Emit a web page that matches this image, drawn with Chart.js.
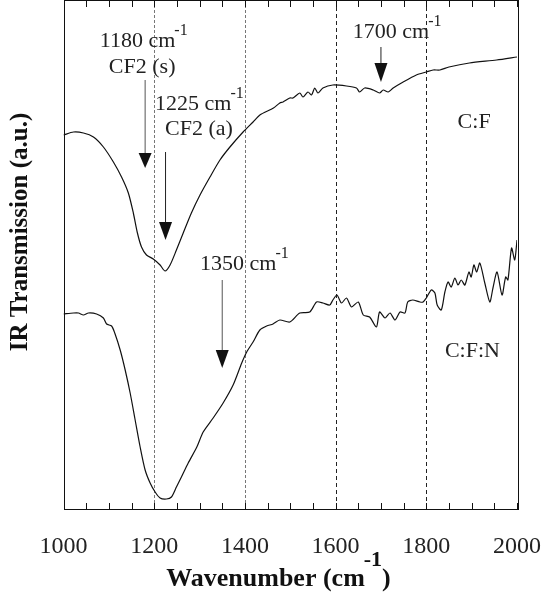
<!DOCTYPE html>
<html>
<head>
<meta charset="utf-8">
<script src="https://cdn.jsdelivr.net/npm/chart.js@4.4.1/dist/chart.umd.min.js"></script>
<style>
  html, body { margin: 0; padding: 0; background: #fff; }
  #wrap { width: 557px; height: 600px; }
</style>
</head>
<body>
<div id="wrap"><canvas id="ir-chart" width="557" height="600"></canvas></div>
<script>
// C:F film spectrum (wavenumber in cm-1, transmission in a.u.)
const cfWavenumber = [1000, 1022, 1044, 1066, 1088, 1110, 1128, 1143, 1154, 1163, 1172, 1183, 1198, 1213, 1224,
  1235, 1249, 1264, 1282, 1301, 1323, 1345, 1367, 1396, 1418, 1433, 1463, 1477, 1484, 1499, 1506, 1521, 1528,
  1539, 1547, 1554, 1561, 1572, 1594, 1624, 1646, 1653, 1664, 1683, 1697, 1705, 1716, 1727, 1749, 1778, 1800,
  1815, 1830, 1850, 1895, 1955, 2000];
const cfTransmission = [375, 378, 377, 373, 363, 348, 333, 317, 297, 277, 263, 255, 251, 245, 239,
  245, 260, 277, 297, 315, 333, 350, 363, 378, 388, 395, 402, 407, 408, 412, 412, 417, 413,
  418, 415, 422, 417, 422, 425, 424, 422, 418, 422, 420, 417, 420, 418, 422, 428, 435, 438,
  440, 440, 443, 447, 450, 453];

// C:F:N film spectrum
const cfnWavenumber = [1000, 1022, 1033, 1044, 1055, 1073, 1088, 1095, 1106, 1113, 1125, 1136, 1147, 1158, 1169,
  1180, 1191, 1202, 1213, 1227, 1238, 1249, 1260, 1275, 1294, 1308, 1330, 1352, 1374, 1393, 1404, 1418, 1433,
  1448, 1462, 1477, 1499, 1521, 1543, 1558, 1572, 1587, 1594, 1603, 1613, 1624, 1635, 1650, 1661, 1675, 1690,
  1697, 1709, 1720, 1731, 1742, 1753, 1759, 1770, 1786, 1793, 1800, 1811, 1819, 1824, 1833, 1841, 1848, 1855,
  1863, 1870, 1877, 1885, 1894, 1899, 1905, 1911, 1918, 1929, 1940, 1947, 1956, 1967, 1975, 1980, 1988, 1995, 2000];
const cfnTransmission = [196, 197, 197, 195, 197, 196, 192, 186, 184, 177, 160, 140, 117, 90, 63,
  40, 27, 18, 12, 11, 13, 23, 33, 47, 63, 78, 92, 107, 125, 147, 158, 168, 180,
  184, 186, 190, 188, 197, 198, 208, 207, 205, 210, 215, 207, 212, 203, 208, 195, 193, 183,
  198, 192, 197, 190, 198, 197, 208, 210, 208, 208, 212, 220, 217, 205, 200, 218, 228, 223,
  232, 225, 230, 225, 238, 233, 245, 238, 247, 227, 208, 222, 238, 215, 233, 230, 262, 250, 270];

const majorTicks = [1000, 1200, 1400, 1600, 1800, 2000];
const minorStep = 50;
const dashedLines = [1200, 1400, 1600, 1800];

// peak markers: arrow at a wavenumber, from shaft top down to the tip
const peakArrows = [
  { wn: 1180, top: 430, base: 357, tip: 342, color: '#555' },
  { wn: 1225, top: 358, base: 288, tip: 270, color: '#222' },
  { wn: 1350, top: 230, base: 160, tip: 142, color: '#555' },
  { wn: 1700, top: 463, base: 447, tip: 428, color: '#222' }
];
const peakTexts = [
  { text: '1180 cm', sup: '-1', wn: 1080, y: 463 },
  { text: 'CF2 (s)', wn: 1100, y: 437 },
  { text: '1225 cm', sup: '-1', wn: 1202, y: 400 },
  { text: 'CF2 (a)', wn: 1224, y: 375 },
  { text: '1350 cm', sup: '-1', wn: 1301, y: 240 },
  { text: '1700 cm', sup: '-1', wn: 1638, y: 472 },
  { text: 'C:F', wn: 1869, y: 382 },
  { text: 'C:F:N', wn: 1841, y: 153 }
];

const SERIF = "'Liberation Serif', 'DejaVu Serif', serif";

function toPoints(xs, ys) {
  return xs.map((x, i) => ({ x: x, y: ys[i] }));
}

function drawSupText(ctx, x, y, main, sup, size, supSize) {
  ctx.font = size + 'px ' + SERIF;
  ctx.textAlign = 'left';
  ctx.textBaseline = 'alphabetic';
  ctx.fillText(main, x, y);
  if (sup) {
    const mw = ctx.measureText(main).width;
    ctx.font = supSize + 'px ' + SERIF;
    ctx.fillText(sup, x + mw - 1, y - size * 0.55);
  }
}

const frameAndNotes = {
  id: 'frameAndNotes',
  beforeDatasetsDraw(chart) {
    const { ctx, chartArea: a, scales: { x } } = chart;
    ctx.save();
    ctx.lineWidth = 1;
    dashedLines.forEach((v, i) => {
      const px = Math.round(x.getPixelForValue(v)) + 0.5;
      ctx.strokeStyle = i < 2 ? '#777' : '#222';
      ctx.setLineDash(i < 2 ? [3, 2] : [4, 3]);
      ctx.beginPath();
      ctx.moveTo(px, a.top);
      ctx.lineTo(px, a.bottom);
      ctx.stroke();
    });
    ctx.restore();
  },
  afterDatasetsDraw(chart) {
    const { ctx, chartArea: a, scales: { x, y } } = chart;
    ctx.save();
    // frame
    ctx.strokeStyle = '#111';
    ctx.lineWidth = 1;
    ctx.strokeRect(Math.round(a.left) + 0.5, a.top + 0.5, Math.round(a.right - a.left), a.bottom - a.top - 1);

    // inward ticks on top and bottom edges
    ctx.beginPath();
    for (let v = x.min; v <= x.max; v += minorStep) {
      const px = Math.round(x.getPixelForValue(v)) + 0.5;
      ctx.moveTo(px, a.bottom);
      ctx.lineTo(px, a.bottom - 7);
      ctx.moveTo(px, a.top);
      ctx.lineTo(px, a.top + 7);
    }
    ctx.stroke();

    // peak arrows
    peakArrows.forEach(p => {
      const px = x.getPixelForValue(p.wn);
      const yTop = y.getPixelForValue(p.top);
      const yBase = y.getPixelForValue(p.base);
      const yTip = y.getPixelForValue(p.tip);
      ctx.strokeStyle = p.color;
      ctx.beginPath();
      ctx.moveTo(px, yTop);
      ctx.lineTo(px, yBase);
      ctx.stroke();
      ctx.fillStyle = '#111';
      ctx.beginPath();
      ctx.moveTo(px - 6.5, yBase);
      ctx.lineTo(px + 6.5, yBase);
      ctx.lineTo(px, yTip);
      ctx.closePath();
      ctx.fill();
    });

    // peak labels
    ctx.fillStyle = '#222';
    peakTexts.forEach(t => {
      drawSupText(ctx, x.getPixelForValue(t.wn), y.getPixelForValue(t.y), t.text, t.sup, 22, 16);
    });
    ctx.restore();
  },
  afterDraw(chart) {
    const { ctx } = chart;
    ctx.save();
    ctx.fillStyle = '#111';
    // x axis title with superscript
    const big = 'bold 26px ' + SERIF;
    const small = 'bold 22px ' + SERIF;
    ctx.font = big;
    const mainW = ctx.measureText('Wavenumber (cm').width;
    const closeW = ctx.measureText(')').width;
    ctx.font = small;
    const supW = ctx.measureText('-1').width;
    const x0 = 279 - (mainW + supW + closeW) / 2;
    ctx.textAlign = 'left';
    ctx.textBaseline = 'alphabetic';
    ctx.font = big;
    ctx.fillText('Wavenumber (cm', x0, 586);
    ctx.fillText(')', x0 + mainW + supW - 1, 586);
    ctx.font = small;
    ctx.fillText('-1', x0 + mainW - 1, 566);

    // y axis title
    ctx.translate(27, 232);
    ctx.rotate(-Math.PI / 2);
    ctx.textAlign = 'center';
    ctx.font = 'bold 25px ' + SERIF;
    ctx.fillText('IR Transmission (a.u.)', 0, 0);
    ctx.restore();
  }
};

const ctx = document.getElementById('ir-chart').getContext('2d');
const irChart = new Chart(ctx, {
  type: 'line',
  data: {
    datasets: [
      {
        label: 'C:F',
        data: toPoints(cfWavenumber, cfTransmission),
        borderColor: '#111',
        borderWidth: 1.2,
        pointRadius: 0,
        tension: 0.25
      },
      {
        label: 'C:F:N',
        data: toPoints(cfnWavenumber, cfnTransmission),
        borderColor: '#111',
        borderWidth: 1.2,
        pointRadius: 0,
        tension: 0.25
      }
    ]
  },
  options: {
    responsive: false,
    animation: false,
    events: [],
    layout: { padding: { left: 63.5, right: 40, top: 0, bottom: 0 } },
    plugins: {
      legend: { display: false },
      tooltip: { enabled: false }
    },
    scales: {
      x: {
        type: 'linear',
        min: 1000,
        max: 2000,
        grid: { display: false, drawTicks: false },
        border: { display: false },
        afterFit(scale) {
          scale.height = 90;
          scale.paddingLeft = 0;
          scale.paddingRight = 0;
        },
        afterBuildTicks(scale) { scale.ticks = majorTicks.map(v => ({ value: v })); },
        ticks: {
          padding: 22,
          color: '#222',
          font: { family: SERIF, size: 24 },
          maxRotation: 0,
          callback: v => String(v)
        }
      },
      y: {
        display: false,
        min: 0,
        max: 510
      }
    }
  },
  plugins: [frameAndNotes]
});
</script>
</body>
</html>
